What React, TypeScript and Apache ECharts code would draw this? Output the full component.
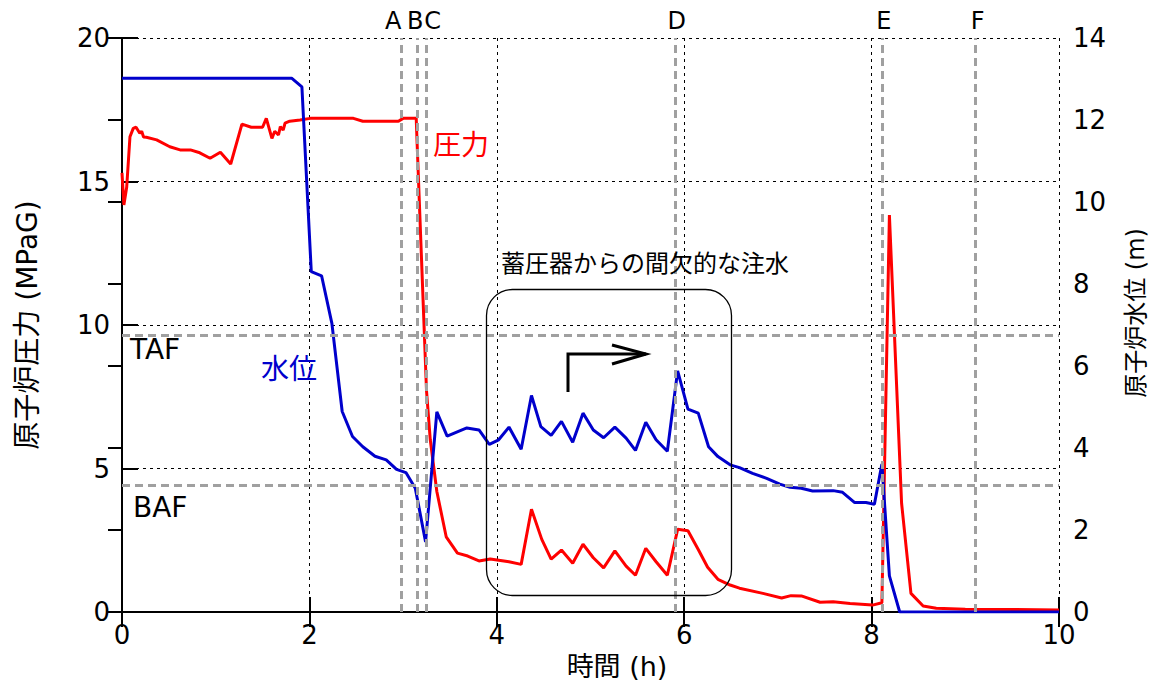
import React, { useEffect, useRef } from "react";
import * as echarts from "echarts";

// ---- data ----
const pressureTime = [
  0.0, 0.02, 0.05, 0.085, 0.12, 0.15, 0.19, 0.21, 0.23, 0.26, 0.37, 0.51, 0.62, 0.73, 0.83, 0.94, 1.05, 1.16,
  1.28, 1.38, 1.5, 1.54, 1.6, 1.63, 1.67, 1.69, 1.72, 1.74, 1.79, 1.9, 2.01, 2.47, 2.57, 2.95, 3.0, 3.14,
  3.15, 3.25, 3.29, 3.36, 3.46, 3.58, 3.69, 3.81, 3.93, 4.13, 4.26, 4.37, 4.48, 4.58, 4.69, 4.81, 4.92,
  5.03, 5.14, 5.26, 5.38, 5.48, 5.59, 5.7, 5.82, 5.93, 6.04, 6.15, 6.25, 6.36, 6.49, 6.59, 6.84, 7.04,
  7.14, 7.25, 7.45, 7.59, 7.77, 8.01, 8.11, 8.19, 8.32, 8.42, 8.55, 8.69, 9.0, 10.0,
];
const pressureMPa = [
  15.3, 14.18, 14.8, 16.56, 16.85, 16.89, 16.68, 16.75, 16.55, 16.54, 16.45, 16.21, 16.1, 16.1, 16.0, 15.81,
  16.02, 15.61, 17.0, 16.89, 16.89, 17.2, 16.5, 16.75, 16.62, 16.91, 16.79, 17.03, 17.1, 17.14, 17.2, 17.2,
  17.1, 17.1, 17.2, 17.2, 16.3, 7.7, 6.0, 4.2, 2.62, 2.05, 1.95, 1.78, 1.85, 1.75, 1.66, 3.58, 2.53, 1.84,
  2.16, 1.7, 2.36, 1.89, 1.54, 2.13, 1.6, 1.28, 2.22, 1.75, 1.28, 2.88, 2.83, 2.18, 1.56, 1.14, 0.94, 0.83,
  0.65, 0.49, 0.57, 0.56, 0.34, 0.36, 0.3, 0.24, 0.32, 13.83, 3.79, 0.65, 0.21, 0.13, 0.1, 0.07,
];
const levelTime = [
  0.0, 1.81, 1.92, 2.02, 2.13, 2.24, 2.35, 2.46, 2.57, 2.7, 2.82, 2.93, 3.03, 3.13, 3.24, 3.36, 3.47, 3.68,
  3.81, 3.92, 4.02, 4.13, 4.26, 4.37, 4.47, 4.58, 4.69, 4.81, 4.92, 5.03, 5.14, 5.26, 5.38, 5.48, 5.59, 5.7,
  5.82, 5.93, 6.04, 6.15, 6.26, 6.36, 6.49, 6.59, 6.73, 6.88, 7.02, 7.13, 7.25, 7.37, 7.59, 7.69, 7.82,
  7.94, 8.03, 8.11, 8.19, 8.3, 10.0,
];
const levelM = [
  13.02, 13.02, 12.81, 8.3, 8.2, 7.04, 4.89, 4.28, 4.03, 3.8, 3.71, 3.48, 3.4, 3.02, 1.71, 4.88, 4.29, 4.49,
  4.44, 4.09, 4.2, 4.51, 3.97, 5.28, 4.52, 4.31, 4.65, 4.14, 4.85, 4.44, 4.25, 4.51, 4.24, 3.94, 4.63, 4.2,
  3.92, 5.88, 4.95, 4.85, 4.03, 3.79, 3.59, 3.52, 3.38, 3.26, 3.12, 3.04, 3.02, 2.95, 2.96, 2.92, 2.67,
  2.67, 2.63, 3.61, 0.88, 0.0, 0.0,
];
const eventTimes = [2.98, 3.15, 3.25, 5.9, 8.11, 9.11];
const eventLabels = ["A", "B", "C", "D", "E", "F"];
const fuelLevelNames = ["TAF", "BAF"];
const fuelLevelM = [6.76, 3.1];
const xTicks = { min: 0, max: 10, interval: 2 };
const pTicks = { min: 0, max: 20, interval: 5 };
const lTicks = { min: 0, max: 14, interval: 2 };

const FONT = "'DejaVu Sans', 'Noto Sans CJK JP', sans-serif";
const JFONT = "'Noto Sans CJK JP', 'DejaVu Sans', sans-serif";

export default function App() {
  const ref = useRef<HTMLDivElement>(null);
  useEffect(() => {
    if (!ref.current) return;
    const chart = echarts.init(ref.current, undefined, { renderer: "svg" });
    const axisLineStyle = { color: "#000", width: 2 };
    const dotted = { color: "#000", width: 1, type: [3, 4] as any };
    const option: any = {
      animation: false,
      backgroundColor: "#fff",
      grid: { left: 122, right: 104, top: 38, bottom: 74, containLabel: false },
      xAxis: [
        {
          type: "value",
          position: "bottom",
          ...xTicks,
          axisLine: { show: true, lineStyle: axisLineStyle },
          axisTick: { show: true, inside: true, length: 15, lineStyle: { color: "#000", width: 2 } },
          axisLabel: { color: "#000", fontSize: 26, fontFamily: FONT, margin: 10 },
          splitLine: { show: true, lineStyle: dotted },
        },
        {
          type: "value",
          position: "top",
          ...xTicks,
          axisLine: { show: true, lineStyle: axisLineStyle },
          axisTick: { show: true, inside: true, length: 15, lineStyle: { color: "#000", width: 2 } },
          axisLabel: { show: false },
          splitLine: { show: false },
        },
      ],
      yAxis: [
        {
          type: "value",
          position: "left",
          ...pTicks,
          axisLine: { show: true, lineStyle: axisLineStyle },
          axisTick: { show: true, inside: true, length: 16, lineStyle: { color: "#000", width: 2 } },
          axisLabel: { color: "#000", fontSize: 26, fontFamily: FONT, margin: 12 },
          splitLine: { show: true, lineStyle: dotted },
        },
        {
          type: "value",
          position: "right",
          ...lTicks,
          axisLine: { show: true, lineStyle: axisLineStyle },
          axisTick: { show: true, inside: true, length: 14, lineStyle: { color: "#000", width: 2 } },
          axisLabel: { color: "#000", fontSize: 26, fontFamily: FONT, margin: 14 },
          splitLine: { show: false },
        },
      ],
      series: [
        {
          name: "圧力",
          type: "line",
          xAxisIndex: 0,
          yAxisIndex: 0,
          data: pressureTime.map((t, i) => [t, pressureMPa[i]]),
          showSymbol: false,
          lineStyle: { color: "#ff0000", width: 3 },
          itemStyle: { color: "#ff0000" },
          z: 3,
        },
        {
          name: "水位",
          type: "line",
          xAxisIndex: 0,
          yAxisIndex: 1,
          data: levelTime.map((t, i) => [t, levelM[i]]),
          showSymbol: false,
          lineStyle: { color: "#0000cc", width: 3 },
          itemStyle: { color: "#0000cc" },
          z: 3,
        },
        {
          name: "ref",
          type: "line",
          xAxisIndex: 0,
          yAxisIndex: 1,
          data: [],
          z: 4,
          markLine: {
            silent: true,
            symbol: "none",
            animation: false,
            label: { show: false },
            lineStyle: { color: "#a0a0a0", width: 3, type: [8, 5] },
            data: [
              ...eventTimes.map((t) => ({ xAxis: t })),
              ...fuelLevelM.map((v) => ({ yAxis: v })),
            ],
          },
        },
      ],
    };
    chart.setOption(option);

    const evX = eventTimes.map((t) => chart.convertToPixel({ xAxisIndex: 0 }, t) as number);
    const labelShift = [-8, -2, 6, 2, 2, 2];
    const fuelY = fuelLevelM.map((v) => chart.convertToPixel({ yAxisIndex: 1 }, v) as number);
    const fuelShift = [15, 23];
    chart.setOption({
      graphic: [
        ...eventLabels.map((s, i) => ({
          type: "text",
          x: evX[i] + labelShift[i],
          y: 21,
          style: { text: s, fill: "#000", font: `24px ${FONT}`, align: "center", verticalAlign: "middle" },
          z: 10,
        })),
        ...fuelLevelNames.map((s, i) => ({
          type: "text",
          x: 130 + i * 3,
          y: fuelY[i] + fuelShift[i],
          style: { text: s, fill: "#000", font: `28px ${FONT}`, align: "left", verticalAlign: "middle" },
          z: 10,
        })),
        {
          type: "text",
          x: 461,
          y: 143,
          style: { text: "圧力", fill: "#ff0000", font: `28px ${JFONT}`, align: "center", verticalAlign: "middle" },
          z: 10,
        },
        {
          type: "text",
          x: 289,
          y: 367,
          style: { text: "水位", fill: "#0000cc", font: `28px ${JFONT}`, align: "center", verticalAlign: "middle" },
          z: 10,
        },
        {
          type: "text",
          x: 645,
          y: 261,
          style: {
            text: "蓄圧器からの間欠的な注水",
            fill: "#000",
            font: `24px ${JFONT}`,
            align: "center",
            verticalAlign: "middle",
          },
          z: 10,
        },
        {
          type: "rect",
          shape: { x: 486.5, y: 289.5, width: 245, height: 306, r: 26 },
          style: { fill: "none", stroke: "#000", lineWidth: 1.3 },
          z: 10,
        },
        {
          type: "polyline",
          shape: { points: [[568, 392], [568, 354], [646, 354]] },
          style: { fill: "none", stroke: "#000", lineWidth: 3 },
          z: 10,
        },
        {
          type: "polyline",
          shape: { points: [[612, 345], [646, 354], [612, 364]] },
          style: { fill: "none", stroke: "#000", lineWidth: 3 },
          z: 10,
        },
        {
          type: "text",
          x: 617,
          y: 666,
          style: { text: "時間 (h)", fill: "#000", font: `27px ${FONT}`, align: "center", verticalAlign: "middle" },
          z: 10,
        },
        {
          type: "text",
          x: 27,
          y: 325,
          rotation: Math.PI / 2,
          style: {
            text: "原子炉圧力 (MPaG)",
            fill: "#000",
            font: `28px ${FONT}`,
            align: "center",
            verticalAlign: "middle",
          },
          z: 10,
        },
        {
          type: "text",
          x: 1136,
          y: 313,
          rotation: Math.PI / 2,
          style: {
            text: "原子炉水位 (m)",
            fill: "#000",
            font: `24px ${FONT}`,
            align: "center",
            verticalAlign: "middle",
          },
          z: 10,
        },
      ],
    });
    return () => chart.dispose();
  }, []);
  return (
    <div
      ref={ref}
      style={{ position: "fixed", left: 0, top: 0, width: 1163, height: 686, background: "#fff" }}
    />
  );
}
